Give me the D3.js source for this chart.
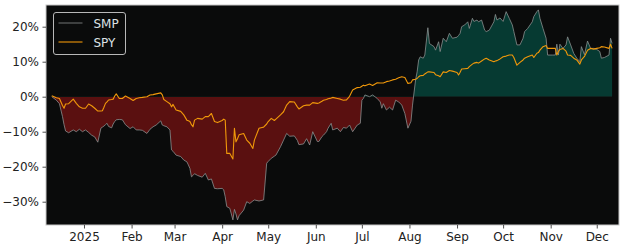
<!DOCTYPE html>
<html>
<head>
<meta charset="utf-8">
<script src="https://cdn.jsdelivr.net/npm/d3@7"></script>
<style>
  html, body { margin: 0; padding: 0; background: #ffffff; }
  svg { display: block; font-family: "DejaVu Sans", sans-serif; }
</style>
</head>
<body>
<div id="chart"></div>
<script>
// dates of the sampled closes (UTC)
var dates = [
  "2024-12-11","2024-12-14","2024-12-16","2024-12-18","2024-12-19","2024-12-20","2024-12-22","2024-12-25","2024-12-27","2024-12-29","2024-12-31",
  "2025-01-02","2025-01-04","2025-01-06","2025-01-08","2025-01-10","2025-01-12","2025-01-13","2025-01-14","2025-01-15","2025-01-16","2025-01-17","2025-01-19","2025-01-20","2025-01-21","2025-01-22","2025-01-24","2025-01-26","2025-01-28","2025-01-31",
  "2025-02-02","2025-02-04","2025-02-06","2025-02-08","2025-02-11","2025-02-13","2025-02-15","2025-02-17","2025-02-20","2025-02-21","2025-02-22","2025-02-24","2025-02-26","2025-02-27","2025-02-28",
  "2025-03-02","2025-03-05","2025-03-07","2025-03-09","2025-03-10","2025-03-11","2025-03-12","2025-03-13","2025-03-14","2025-03-16","2025-03-19","2025-03-21","2025-03-23","2025-03-25","2025-03-27","2025-03-29",
  "2025-04-01","2025-04-02","2025-04-03","2025-04-04","2025-04-06","2025-04-08","2025-04-09","2025-04-10","2025-04-11","2025-04-12","2025-04-15","2025-04-17","2025-04-19","2025-04-21","2025-04-22","2025-04-25","2025-04-27","2025-04-28","2025-04-30",
  "2025-05-01","2025-05-03","2025-05-05","2025-05-06","2025-05-09","2025-05-11","2025-05-13","2025-05-15","2025-05-18","2025-05-20","2025-05-21","2025-05-24","2025-05-26","2025-05-28","2025-05-30",
  "2025-06-02","2025-06-03","2025-06-05","2025-06-06","2025-06-08","2025-06-09","2025-06-11","2025-06-12","2025-06-15","2025-06-17","2025-06-19","2025-06-21","2025-06-23","2025-06-25","2025-06-28","2025-06-30",
  "2025-07-01","2025-07-02","2025-07-03","2025-07-06","2025-07-08","2025-07-11","2025-07-13","2025-07-14","2025-07-15","2025-07-17","2025-07-19","2025-07-21","2025-07-23","2025-07-25","2025-07-27","2025-07-29","2025-07-31",
  "2025-08-02","2025-08-03","2025-08-05","2025-08-06","2025-08-07","2025-08-08","2025-08-10","2025-08-11","2025-08-13","2025-08-14","2025-08-17","2025-08-18","2025-08-20","2025-08-21","2025-08-23","2025-08-25","2025-08-27","2025-08-29",
  "2025-09-01","2025-09-02","2025-09-03","2025-09-04","2025-09-06","2025-09-08","2025-09-09","2025-09-11","2025-09-12","2025-09-14","2025-09-15","2025-09-17","2025-09-19","2025-09-20","2025-09-22","2025-09-25","2025-09-26","2025-09-27","2025-09-29",
  "2025-10-01","2025-10-03","2025-10-05","2025-10-07","2025-10-08","2025-10-10","2025-10-12","2025-10-14","2025-10-15","2025-10-17","2025-10-20","2025-10-21","2025-10-23","2025-10-24","2025-10-25","2025-10-27","2025-10-29","2025-10-30",
  "2025-11-02","2025-11-04","2025-11-05","2025-11-06","2025-11-07","2025-11-09","2025-11-11","2025-11-12","2025-11-14","2025-11-16","2025-11-18","2025-11-20","2025-11-21","2025-11-23","2025-11-25","2025-11-27","2025-11-29",
  "2025-12-01","2025-12-03","2025-12-04","2025-12-06","2025-12-09","2025-12-10","2025-12-11"
];

// cumulative return, percent
var smp = [
  0.0,-1.0,-2.0,-5.7,-8.0,-9.8,-10.3,-9.5,-10.0,-9.3,-10.0,
  -9.5,-10.2,-11.0,-11.5,-13.0,-9.0,-8.7,-8.4,-8.0,-7.6,-8.5,-8.9,-7.8,-7.1,-6.6,-6.5,-6.6,-8.0,-9.1,
  -8.6,-9.5,-9.5,-9.6,-10.5,-9.3,-8.6,-8.1,-6.9,-8.1,-8.3,-8.6,-9.5,-15.2,-15.6,
  -16.7,-17.1,-18.1,-18.6,-19.5,-20.5,-22.9,-22.5,-22.0,-22.5,-23.0,-21.9,-23.8,-23.5,-26.2,-26.3,
  -26.2,-26.6,-28.6,-31.4,-31.9,-35.2,-32.2,-33.5,-35.2,-34.0,-32.4,-30.0,-30.5,-29.8,-29.5,-29.8,-29.6,-29.5,-19.0,
  -18.5,-17.6,-17.0,-16.7,-14.3,-12.4,-10.5,-11.3,-11.2,-12.5,-13.7,-13.5,-12.0,-13.8,-10.0,
  -12.8,-12.8,-11.4,-11.0,-10.0,-9.0,-7.6,-9.5,-9.0,-10.0,-8.8,-9.0,-8.1,-10.0,-8.1,-7.6,
  -1.0,-0.5,0.5,0.0,0.5,-0.5,-1.5,-3.3,-2.0,-3.8,-3.0,-3.8,-1.0,-1.5,-2.4,-4.8,-9.0,
  -7.0,-2.4,4.8,7.1,10.5,11.4,11.0,11.9,19.7,15.2,14.3,13.3,15.7,12.9,16.7,15.7,18.1,16.7,
  17.0,17.5,18.1,20.0,20.5,21.4,19.5,22.4,21.5,21.9,21.4,21.9,19.0,18.6,19.0,21.4,23.5,21.9,22.5,
  21.5,24.3,22.4,20.5,18.6,14.8,14.8,16.7,18.6,19.5,21.4,22.9,24.3,24.8,22.4,19.5,16.7,11.9,
  11.9,11.9,15.0,11.9,15.0,13.8,14.8,17.1,14.8,12.4,11.0,10.0,14.3,12.0,15.9,13.8,13.8,
  13.5,12.9,11.0,11.2,11.9,16.7,15.2
];

var spy = [
  0.3,-0.3,-0.5,-2.5,-3.3,-2.1,-2.0,-0.7,-1.9,-2.9,-3.3,
  -3.3,-2.1,-2.6,-3.3,-4.1,-4.1,-4.0,-3.0,-1.9,-1.5,-0.95,-0.8,-0.7,0.2,0.8,-0.5,-0.5,0.2,-0.5,
  -1.1,-0.5,-0.3,-0.2,0.0,0.5,0.6,0.8,1.1,0.5,-0.8,-1.4,-2.0,-2.9,-2.2,
  -3.8,-4.2,-5.2,-6.7,-6.9,-7.1,-8.0,-8.6,-6.7,-6.2,-6.4,-5.7,-5.7,-4.8,-7.1,-7.4,
  -6.8,-6.4,-6.7,-16.2,-16.2,-17.8,-9.0,-12.9,-12.0,-10.9,-10.5,-12.4,-13.3,-14.8,-12.4,-9.0,-8.8,-8.7,-7.8,
  -7.1,-6.2,-6.8,-6.4,-5.2,-4.3,-2.4,-1.4,-1.5,-2.9,-3.5,-2.6,-2.4,-2.4,-1.7,
  -1.9,-1.8,-1.3,-1.0,-0.8,-0.6,-0.4,-0.2,-0.5,-0.7,-1.0,-0.9,0.1,1.9,2.6,2.7,
  3.0,3.3,3.1,3.6,3.2,4.0,3.9,3.9,3.9,4.3,4.5,4.8,5.0,5.4,5.7,5.5,3.8,
  4.0,4.8,5.0,5.2,5.7,6.0,6.1,6.5,7.1,7.1,6.9,6.3,6.0,5.7,7.1,6.9,7.5,7.3,
  6.9,6.2,7.0,7.9,8.0,8.1,8.6,9.3,9.6,9.8,9.6,10.2,10.8,11.0,10.5,10.0,10.2,10.3,10.8,
  11.4,11.6,11.9,11.9,11.2,9.0,9.8,10.5,11.0,11.4,11.9,11.2,12.4,12.6,13.3,14.3,14.6,13.8,
  13.8,13.8,11.9,12.9,13.5,13.8,13.0,11.9,11.8,11.0,10.5,9.3,10.5,11.5,13.3,13.8,13.6,
  13.8,14.0,14.3,14.2,13.8,15.0,13.8
];

var yTicks = [-30, -20, -10, 0, 10, 20];
var xTickDates = ["2025-01-01","2025-02-01","2025-03-01","2025-04-01","2025-05-01","2025-06-01",
                  "2025-07-01","2025-08-01","2025-09-01","2025-10-01","2025-11-01","2025-12-01"];
var xTickLabels = ["2025","Feb","Mar","Apr","May","Jun","Jul","Aug","Sep","Oct","Nov","Dec"];
var seriesNames = ["SMP", "SPY"];

var W = 625, H = 250;
var mLeft = 46, mRight = 619, mTop = 5, mBottom = 225;

var parse = d3.utcParse("%Y-%m-%d");
var data = dates.map(function(d, i) { return { date: parse(d), smp: smp[i], spy: spy[i] }; });

var svg = d3.select("#chart").append("svg").attr("width", W).attr("height", H);

var x = d3.scaleUtc()
  .domain([new Date(Date.UTC(2024, 11, 7, 6)), new Date(Date.UTC(2025, 11, 15, 12))])
  .range([mLeft, mRight]);
var y = d3.scaleLinear().domain([-36.66, 26.2]).range([mBottom, mTop]);

// plot background
svg.append("rect").attr("x", mLeft).attr("y", mTop)
  .attr("width", mRight - mLeft).attr("height", mBottom - mTop)
  .attr("fill", "#0a0b0b");

var defs = svg.append("defs");
defs.append("clipPath").attr("id", "clipPos").append("rect")
  .attr("x", mLeft).attr("y", mTop).attr("width", mRight - mLeft).attr("height", y(0) - mTop);
defs.append("clipPath").attr("id", "clipNeg").append("rect")
  .attr("x", mLeft).attr("y", y(0)).attr("width", mRight - mLeft).attr("height", mBottom - y(0));

var area = d3.area()
  .x(function(d) { return x(d.date); })
  .y0(y(0))
  .y1(function(d) { return y(d.smp); });

svg.append("path").datum(data).attr("d", area)
  .attr("fill", "#5a1010").attr("clip-path", "url(#clipNeg)");
svg.append("path").datum(data).attr("d", area)
  .attr("fill", "#063a32").attr("clip-path", "url(#clipPos)");

var smpLine = d3.line().x(function(d) { return x(d.date); }).y(function(d) { return y(d.smp); });
var spyLine = d3.line().x(function(d) { return x(d.date); }).y(function(d) { return y(d.spy); });

svg.append("path").datum(data).attr("d", smpLine)
  .attr("fill", "none").attr("stroke", "#8a8f8f").attr("stroke-width", 0.8);
svg.append("path").datum(data).attr("d", spyLine)
  .attr("fill", "none").attr("stroke", "#f0980a").attr("stroke-width", 1.1)
  .attr("stroke-linejoin", "round");

// frame
svg.append("rect").attr("x", mLeft).attr("y", mTop)
  .attr("width", mRight - mLeft).attr("height", mBottom - mTop)
  .attr("fill", "none").attr("stroke", "#c8c8c8").attr("stroke-width", 1);

// axes
var fmtPct = function(v) { return (v < 0 ? "\u2212" + Math.abs(v) : v) + "%"; };
var yAxis = d3.axisLeft(y).tickValues(yTicks).tickFormat(fmtPct).tickSize(3.5).tickPadding(3.5);
var gy = svg.append("g").attr("transform", "translate(" + mLeft + ",0)").call(yAxis);

var xAxis = d3.axisBottom(x).tickValues(xTickDates.map(parse))
  .tickFormat(function(d, i) { return xTickLabels[i]; }).tickSize(3.5).tickPadding(3.5);
var gx = svg.append("g").attr("transform", "translate(0," + mBottom + ")").call(xAxis);

[gx, gy].forEach(function(g) {
  g.select(".domain").remove();
  g.selectAll("line").attr("stroke", "#222").attr("stroke-width", 0.8);
  g.selectAll("text").attr("fill", "#222").style("font-size", "12px")
    .style("font-family", "'DejaVu Sans', sans-serif");
});

// legend
var lg = svg.append("g").attr("transform", "translate(53.5,12.5)");
lg.append("rect").attr("width", 72).attr("height", 42).attr("rx", 2.5)
  .attr("fill", "#0a0b0b").attr("stroke", "#b8b8b8").attr("stroke-width", 1);
var colors = ["#8a8f8f", "#f0980a"];
seriesNames.forEach(function(name, i) {
  lg.append("line").attr("x1", 5).attr("x2", 29)
    .attr("y1", 10.5 + i * 19).attr("y2", 10.5 + i * 19)
    .attr("stroke", colors[i]).attr("stroke-width", i === 0 ? 0.8 : 1.1);
  lg.append("text").attr("x", 40).attr("y", 15 + i * 19)
    .attr("fill", "#dde2e6").style("font-size", "12px").text(name);
});
</script>
</body>
</html>
